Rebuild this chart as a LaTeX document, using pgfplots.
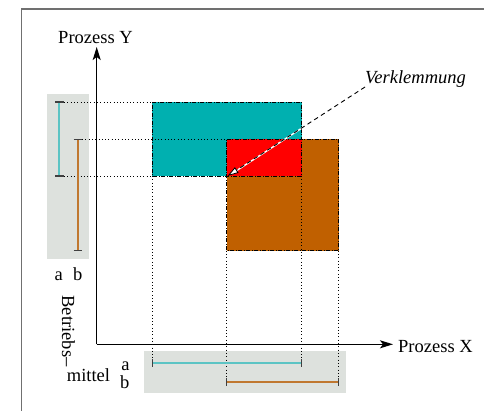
\documentclass[border=0pt]{standalone}
\usepackage{fontspec}
\setmainfont{Liberation Serif}
\usepackage{pgfplots}
\pgfplotsset{compat=1.18}
\usetikzlibrary{arrows.meta}

\definecolor{tealfill}{HTML}{00B0B0}
\definecolor{brownfill}{HTML}{C06000}
\definecolor{boxgray}{HTML}{DDE1DD}
\definecolor{tealbar}{HTML}{5CC4C4}
\definecolor{brownbar}{HTML}{C07830}
\definecolor{framegray}{HTML}{707070}

\tikzset{
  dashdot/.style={draw=black, line width=0.8pt, dash pattern=on 4pt off 1.5pt on 1pt off 1.5pt},
  dots/.style={draw=black, line width=0.9pt, dash pattern=on 0.9pt off 2.4pt},
  endtick/.style={draw=black!75, line width=1.2pt},
  lbl/.style={inner sep=0pt, font=\fontsize{18.5}{20}\selectfont},
}

\begin{document}
\begin{tikzpicture}
\begin{axis}[
  width=484pt, height=411pt, scale only axis,
  xmin=0, xmax=484, ymin=0, ymax=411, y dir=reverse,
  hide axis, clip=false,
]
% frame
\addplot[draw=framegray, line width=1.2pt] coordinates {(21.7,420) (21.7,9) (490,9)};

% grey panels
\addplot[fill=boxgray, draw=none] coordinates {(46.7,94) (89,94) (89,258.7) (46.7,258.7)} -- cycle;
\addplot[fill=boxgray, draw=none] coordinates {(144,351) (345.7,351) (345.7,392.7) (144,392.7)} -- cycle;

% resource rectangles
\addplot[fill=tealfill, dashdot] coordinates {(152.3,102) (301.7,102) (301.7,176) (152.3,176)} -- cycle;
\addplot[fill=brownfill, dashdot] coordinates {(226.7,139.3) (338.7,139.3) (338.7,250.7) (226.7,250.7)} -- cycle;
\addplot[fill=red, dashdot] coordinates {(226.7,139.3) (301.7,139.3) (301.7,176) (226.7,176)} -- cycle;

% projection lines
\addplot[dots] coordinates {(64,102) (152.3,102)};
\addplot[dots] coordinates {(82,139.3) (226.7,139.3)};
\addplot[dots] coordinates {(64,176) (152.3,176)};
\addplot[dots] coordinates {(152.3,176) (152.3,362.7)};
\addplot[dots] coordinates {(226.7,250.7) (226.7,381.7)};
\addplot[dots] coordinates {(301.7,176) (301.7,362.7)};
\addplot[dots] coordinates {(338.7,250.7) (338.7,381.7)};

% resource bars left
\addplot[draw=tealbar, line width=2.2pt] coordinates {(59.3,102) (59.3,176)};
\addplot[draw=brownbar, line width=1.6pt] coordinates {(77.7,139.3) (77.7,250.7)};
\addplot[endtick] coordinates {(55,102) (63.5,102)};
\addplot[endtick] coordinates {(55,176) (63.5,176)};
\addplot[endtick] coordinates {(73.5,139.3) (82,139.3)};
\addplot[endtick] coordinates {(73.5,250.7) (82,250.7)};

% resource bars bottom
\addplot[draw=tealbar, line width=2.2pt] coordinates {(152.3,362.7) (301.7,362.7)};
\addplot[draw=brownbar, line width=2pt] coordinates {(226.7,381.7) (338.7,381.7)};
\addplot[endtick] coordinates {(152.3,359) (152.3,366.5)};
\addplot[endtick] coordinates {(301.7,359) (301.7,366.5)};
\addplot[endtick] coordinates {(226.7,378) (226.7,385.5)};
\addplot[endtick] coordinates {(338.7,378) (338.7,385.5)};

% axes
\addplot[draw=black, line width=1.2pt, -{Stealth[length=13pt,width=8pt,inset=3pt]}] coordinates {(96.7,344.3) (96.7,47)};
\addplot[draw=black, line width=1.2pt, -{Stealth[length=13pt,width=8pt,inset=3pt]}] coordinates {(96.7,344.3) (393,344.3)};

% deadlock pointer
\addplot[draw=white, line width=1.4pt] coordinates {(365,87) (236,171)};
\addplot[draw=black, line width=0.9pt, dash pattern=on 4.5pt off 3.5pt,
  -{Triangle[length=11pt,width=6.5pt,fill=white,line width=0.8pt]}] coordinates {(365,87) (227.5,176)};

% labels
\node[lbl, anchor=base] at (axis cs:95.5,43.3) {Prozess Y};
\node[lbl, anchor=base west] at (axis cs:398,352.3) {Prozess X};
\node[lbl, anchor=base west] at (axis cs:365,84) {\itshape Verklemmung};
\node[lbl, anchor=base] at (axis cs:58.8,281) {a};
\node[lbl, anchor=base] at (axis cs:77.8,281) {b};
\node[lbl, rotate=-90] at (axis cs:68.5,331) {Betriebs–};
\node[lbl, anchor=base] at (axis cs:88.5,381.5) {mittel};
\node[lbl, anchor=base] at (axis cs:125.5,370.7) {a};
\node[lbl, anchor=base] at (axis cs:124.8,388.3) {b};
\end{axis}
\pgfresetboundingbox
\path[use as bounding box] (current axis.south west) rectangle (current axis.north east);
\end{tikzpicture}
\end{document}
